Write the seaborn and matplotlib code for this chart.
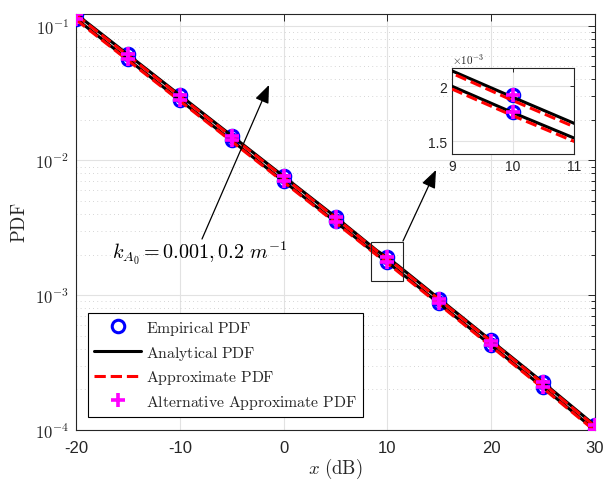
import numpy as np
import pandas as pd
import seaborn as sns
import matplotlib
matplotlib.use("Agg")
import matplotlib.pyplot as plt
from matplotlib.ticker import FixedLocator, FixedFormatter, LogLocator, NullFormatter
from matplotlib.patches import Rectangle, FancyArrowPatch

# ---------------- data ----------------
x_line = [-20, -15, -10, -5, 0, 5, 9, 10, 11, 15, 20, 25, 30]
analytical_k1 = [0.1220, 0.0610, 0.0305, 0.01525, 0.00762, 0.00381, 0.00214, 0.00190, 0.001664,
                 0.000940, 0.000460, 0.000225, 0.000108]
analytical_k2 = [0.1125, 0.0562, 0.0281, 0.01405, 0.00702, 0.00351, 0.00200, 0.00176, 0.00153,
                 0.000866, 0.000424, 0.000207, 0.000100]
approx_k1 = [0.1200, 0.0600, 0.0300, 0.01500, 0.00750, 0.00375, 0.002118, 0.001870, 0.001633,
             0.000925, 0.000453, 0.000221, 0.0001063]
approx_k2 = [0.1107, 0.0553, 0.02765, 0.01383, 0.00691, 0.003455, 0.001975, 0.001732, 0.00150,
             0.000852, 0.000417, 0.000204, 0.0000984]

x_pts = [-20, -15, -10, -5, 0, 5, 10, 15, 20, 25, 30]
empirical_k1 = [0.1225, 0.0612, 0.0306, 0.0153, 0.00765, 0.00383, 0.00192, 0.000945, 0.000462,
                0.000226, 0.000108]
empirical_k2 = [0.1128, 0.0564, 0.0282, 0.0141, 0.00705, 0.00353, 0.00177, 0.00087, 0.000426,
                0.000208, 0.000100]
altapprox_k1 = [0.1222, 0.0611, 0.0305, 0.01527, 0.00763, 0.00382, 0.00192, 0.000944, 0.000461,
                0.000226, 0.000108]
altapprox_k2 = [0.1126, 0.0563, 0.0281, 0.01408, 0.00704, 0.00352, 0.00177, 0.000869, 0.000425,
                0.000208, 0.000100]

x_ticks = [-20, -10, 0, 10, 20, 30]
y_ticks = [1e-4, 1e-3, 1e-2, 1e-1]
y_tick_labels = [r'$\mathsf{10^{-4}}$', r'$\mathsf{10^{-3}}$', r'$\mathsf{10^{-2}}$', r'$\mathsf{10^{-1}}$']
inset_x_ticks = [9, 10, 11]
inset_y_ticks = [1.5e-3, 2e-3]
inset_y_labels = ['1.5', '2']

legend_labels = [r'$\mathrm{Empirical\ PDF}$', r'$\mathrm{Analytical\ PDF}$',
                 r'$\mathrm{Approximate\ PDF}$', r'$\mathrm{Alternative\ Approximate\ PDF}$']

# ---------------- style ----------------
sns.set_theme(style="white")
plt.rcParams['font.family'] = ['Liberation Sans', 'DejaVu Sans']
plt.rcParams['mathtext.fontset'] = 'cm'
plt.rcParams['axes.unicode_minus'] = False

DARK = '#262626'
GRID = '#e2e2e2'

W, H = 605, 481
fig = plt.figure(figsize=(W / 100, H / 100), dpi=100)
fig.patch.set_facecolor('white')


def draw(ax, with_labels):
    def lbl(i):
        return legend_labels[i] if with_labels else None
    circ = dict(marker='o', linestyle='', markersize=9, markerfacecolor='none',
                markeredgecolor='blue', markeredgewidth=2.2, color='blue')
    plus = dict(marker='+', linestyle='', markersize=10, markeredgecolor='magenta',
                markeredgewidth=2.6, color='magenta')
    sns.lineplot(x=x_pts, y=empirical_k1, ax=ax, label=lbl(0), zorder=3, legend=False, **circ)
    sns.lineplot(x=x_pts, y=empirical_k2, ax=ax, zorder=3, legend=False, **circ)
    sns.lineplot(x=x_line, y=analytical_k1, ax=ax, color='black', lw=2.2, label=lbl(1), zorder=4, legend=False)
    sns.lineplot(x=x_line, y=analytical_k2, ax=ax, color='black', lw=2.2, zorder=4, legend=False)
    sns.lineplot(x=x_line, y=approx_k1, ax=ax, color='red', lw=2.2, linestyle='--', label=lbl(2), zorder=5, legend=False)
    sns.lineplot(x=x_line, y=approx_k2, ax=ax, color='red', lw=2.2, linestyle='--', zorder=5, legend=False)
    sns.lineplot(x=x_pts, y=altapprox_k1, ax=ax, label=lbl(3), zorder=6, legend=False, **plus)
    sns.lineplot(x=x_pts, y=altapprox_k2, ax=ax, zorder=6, legend=False, **plus)


def style_axes(ax, labelsize):
    for s in ax.spines.values():
        s.set_color(DARK)
        s.set_linewidth(0.8)
        s.set_visible(True)
    ax.tick_params(which='both', direction='in', top=True, right=True, colors=DARK,
                   labelsize=labelsize, width=0.7)
    ax.tick_params(which='major', length=5)
    ax.tick_params(which='minor', length=3)
    ax.set_facecolor('white')


# ---------------- main axes ----------------
ax = fig.add_axes([76 / W, 50 / H, 519 / W, 416 / H])
ax.set_yscale('log')
draw(ax, True)
ax.set_xlim(-20, 30)
ax.set_ylim(1e-4, 0.122)
ax.xaxis.set_major_locator(FixedLocator(x_ticks))
ax.set_xticklabels([str(v) for v in x_ticks])
ax.yaxis.set_major_locator(FixedLocator(y_ticks))
ax.yaxis.set_major_formatter(FixedFormatter(y_tick_labels))
ax.yaxis.set_minor_locator(LogLocator(base=10, subs=np.arange(2, 10)))
ax.yaxis.set_minor_formatter(NullFormatter())
style_axes(ax, 12)
ax.tick_params(axis='x', which='major', pad=7)
ax.tick_params(axis='y', which='major', pad=5)
ax.grid(True, which='major', color=GRID, lw=0.8, ls='-')
ax.grid(True, which='minor', axis='y', color='#c8c8c8', lw=0.6, ls=(0, (1, 4)))
ax.set_axisbelow(True)
ax.set_xlabel(r'$x\ \mathrm{(dB)}$', fontsize=13.5, color=DARK, labelpad=1)
ax.set_ylabel(r'$\mathrm{PDF}$', fontsize=13.5, color=DARK, labelpad=4)

h, l = ax.get_legend_handles_labels()
leg = ax.legend(h, l, loc='lower left', bbox_to_anchor=(12 / 519, 13 / 416), borderaxespad=0,
                fontsize=11.3, frameon=True, fancybox=False, framealpha=1, edgecolor='black',
                handlelength=3.0, handletextpad=0.3, labelspacing=0.42, borderpad=0.4, numpoints=1)
leg.get_frame().set_linewidth(0.8)

# ---------------- inset ----------------
axi = fig.add_axes([452 / W, (H - 155) / H, 122 / W, 86 / H])
draw(axi, False)
axi.set_xlim(9, 11)
axi.set_ylim(1.385e-3, 2.166e-3)
axi.xaxis.set_major_locator(FixedLocator(inset_x_ticks))
axi.set_xticklabels([str(v) for v in inset_x_ticks])
axi.yaxis.set_major_locator(FixedLocator(inset_y_ticks))
axi.yaxis.set_major_formatter(FixedFormatter(inset_y_labels))
style_axes(axi, 10)
axi.tick_params(which='major', length=3)
axi.grid(True, which='major', color=GRID, lw=0.8, ls='-')
axi.set_axisbelow(True)
axi.text(0.0, 1.02, r'$\times\mathsf{10^{-3}}$', transform=axi.transAxes, fontsize=8,
         color=DARK, ha='left', va='bottom')

# ---------------- annotations ----------------
def fp(x, y):
    return (x / W, (H - y) / H)

arrow_kw = dict(arrowstyle='-|>,head_length=0.55,head_width=0.22', mutation_scale=20,
                lw=0.9, color='black', shrinkA=0, shrinkB=0)
fig.add_artist(FancyArrowPatch(fp(202, 240), fp(269, 86), transform=fig.transFigure, **arrow_kw))
fig.add_artist(FancyArrowPatch(fp(403, 242), fp(436, 171), transform=fig.transFigure, **arrow_kw))
fig.add_artist(Rectangle(fp(371, 282), 32 / W, 39 / H, transform=fig.transFigure,
                         fill=False, edgecolor='#222222', lw=0.8))
fig.text(112 / W, (H - 253) / H, r'$k_{A_0} = 0.001, 0.2\ m^{-1}$', fontsize=14.5,
         ha='left', va='center', color='black')

fig.savefig('out.png', dpi=100, facecolor='white')
